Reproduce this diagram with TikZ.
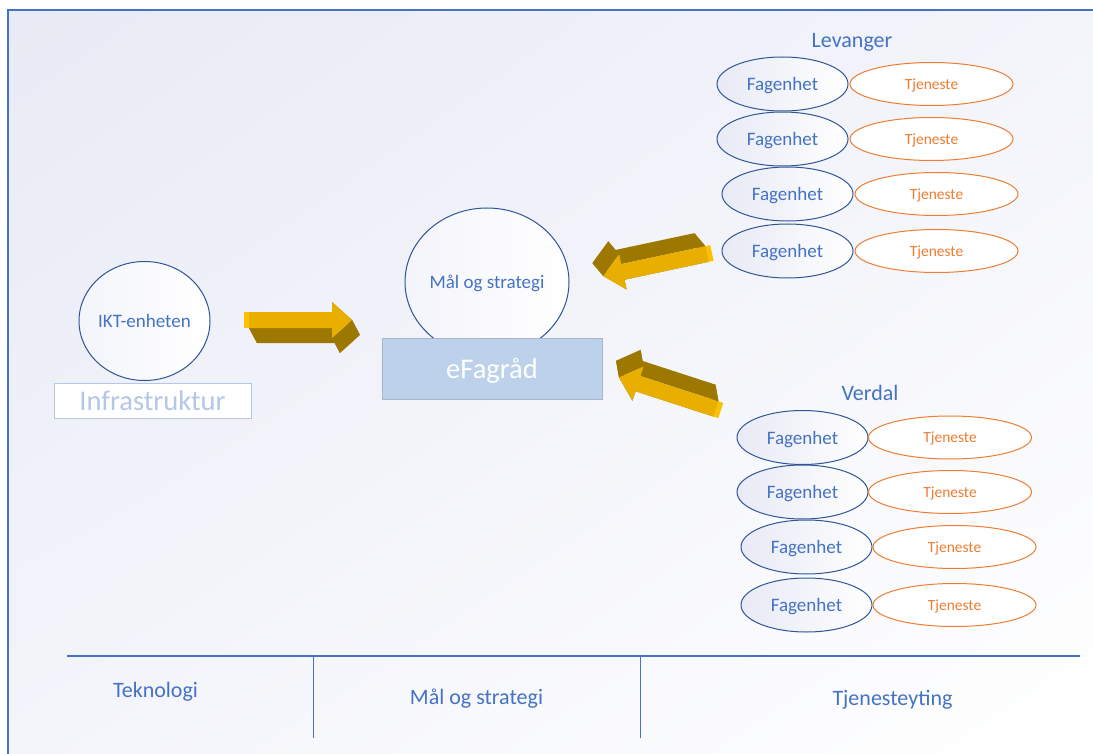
\documentclass[tikz,border=0pt]{standalone}
\usepackage{fontspec}
\setmainfont{Carlito}
\usetikzlibrary{shapes.geometric,shadings}
\definecolor{msblue}{HTML}{4472C4}
\definecolor{dkblue}{HTML}{2F5597}
\definecolor{msorange}{HTML}{ED7D31}
\definecolor{lightblue}{HTML}{B4C7E7}
\definecolor{boxblue}{HTML}{BDD1EA}
\definecolor{boxedge}{HTML}{A9B6C9}
\definecolor{lav}{HTML}{E8EAF5}
\definecolor{lavmid}{HTML}{F4F5FB}
\definecolor{golddark}{HTML}{9C7800}
\definecolor{goldface}{HTML}{E8AE00}
\definecolor{goldbright}{HTML}{FFC000}
\newcommand{\fsz}[1]{\fontsize{#1}{#1}\selectfont}
\newcommand{\goldarrow}[3]{%
\begin{scope}[shift={(#1)}, rotate=#2]
 \pgfmathsetmacro\Lh{#3-20}
 \def\Lt{#3}
 \foreach \ax/\ay/\bx/\by in {0/-8/\Lh/-8, \Lh/-8/\Lh/-18, \Lh/-18/\Lt/0, \Lt/0/\Lh/18, \Lh/18/\Lh/8, \Lh/8/0/8, 0/8/0/-8}{
   \fill[golddark] (\ax,\ay) -- (\bx,\by) -- (\bx+8,\by+15) -- (\ax+8,\ay+15) -- cycle;
 }
 \fill[goldface] (0,-8) -- (\Lh,-8) -- (\Lh,-18) -- (\Lt,0) -- (\Lh,18) -- (\Lh,8) -- (0,8) -- cycle;
 \fill[goldbright] (-5,-8) rectangle (0,8);
\end{scope}}
\tikzset{
 fagenhet/.style={ellipse, draw=dkblue, line width=1pt, left color=lav, right color=white, minimum width=131pt, minimum height=54pt, inner sep=0pt, text=msblue, font=\fsz{19}, text depth=0pt},
 tjeneste/.style={ellipse, draw=msorange, line width=1pt, fill=white, minimum width=163pt, minimum height=43pt, inner sep=0pt, text=msorange, font=\fsz{15.5}, text depth=0pt},
 bigcirc/.style={ellipse, draw=dkblue, line width=1pt, left color=lavmid, right color=white, inner sep=0pt, text=msblue, font=\fsz{19}, text depth=0pt},
 title/.style={text=msblue, font=\fsz{22}, inner sep=0pt, text depth=0pt},
 collabel/.style={text=msblue, font=\fsz{22}, inner sep=0pt, text depth=0pt},
 frameline/.style={draw=msblue, line width=1.5pt},
 colline/.style={draw=msblue, line width=1pt}
}
\begin{document}
\begin{tikzpicture}[x=1pt, y=-1pt]
\useasboundingbox (0,0) rectangle (1093,754);
\fill[white] (0,0) rectangle (1093,754);
\shade[upper left=lav, upper right=lavmid, lower left=lavmid, lower right=white] (8,10) rectangle (1093,754);
\draw[frameline] (8,754) -- (8,10) -- (1093,10);

% left group
\node[bigcirc, minimum width=131pt, minimum height=119pt] (ikt) at (144.5,321) {IKT-enheten};
\node[draw=lightblue, fill=white, line width=1pt, minimum width=197pt, minimum height=35pt, text=lightblue, font=\fsz{28.5}, inner sep=0pt, text depth=0pt] (infra) at (152.5,400.5) {Infrastruktur};

% centre
\node[bigcirc, minimum width=164pt, minimum height=148pt] (mal) at (487,282) {Mål og strategi};
\node[draw=boxedge, fill=boxblue, line width=1pt, minimum width=220pt, minimum height=61pt, text=white, font=\fsz{28.5}, inner sep=0pt, text depth=0pt] (efag) at (492,368.5) {eFagråd};

% arrows
\goldarrow{249,320}{0}{103}
\goldarrow{707,254}{192}{106}
\goldarrow{716,409}{162}{102}

% Levanger
\node[title] (lev) at (852,40) {Levanger};
\node[fagenhet] (lf1) at (782.5,84) {Fagenhet};
\node[tjeneste] (lt1) at (931.5,84) {Tjeneste};
\node[fagenhet] (lf2) at (782.5,139) {Fagenhet};
\node[tjeneste] (lt2) at (931.5,139) {Tjeneste};
\node[fagenhet] (lf3) at (787.5,194) {Fagenhet};
\node[tjeneste] (lt3) at (936.5,194) {Tjeneste};
\node[fagenhet] (lf4) at (787.5,251) {Fagenhet};
\node[tjeneste] (lt4) at (936.5,251) {Tjeneste};

% Verdal
\node[title] (ver) at (870,393) {Verdal};
\node[fagenhet] (vf1) at (802.5,437.5) {Fagenhet};
\node[tjeneste] (vt1) at (950,437.5) {Tjeneste};
\node[fagenhet] (vf2) at (802.5,492) {Fagenhet};
\node[tjeneste] (vt2) at (950,492) {Tjeneste};
\node[fagenhet] (vf3) at (806.5,547) {Fagenhet};
\node[tjeneste] (vt3) at (954.5,547) {Tjeneste};
\node[fagenhet] (vf4) at (806.5,605) {Fagenhet};
\node[tjeneste] (vt4) at (954.5,605) {Tjeneste};

% bottom table
\draw[frameline, line width=1.3pt] (67,656) -- (1080,656);
\draw[colline] (313,656) -- (313,738);
\draw[colline] (640,656) -- (640,738);
\node[collabel] (tek) at (155.5,690) {Teknologi};
\node[collabel] (mos) at (476.5,697) {Mål og strategi};
\node[collabel] (tjy) at (892.5,698) {Tjenesteyting};
\end{tikzpicture}
\end{document}
